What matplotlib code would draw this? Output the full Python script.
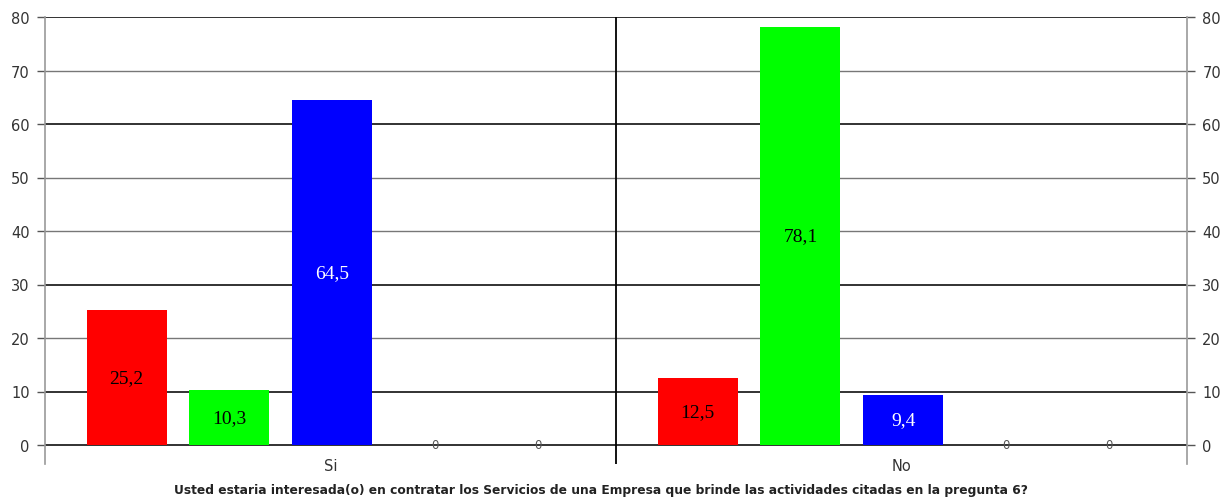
import matplotlib.pyplot as plt
import numpy as np

# Data
categories = ["Si", "No"]
series_colors = ["#ff0000", "#00ff00", "#0000ff", "#808080", "#808080"]
label_colors = ["black", "black", "white", "#555555", "#555555"]
values = [
    [25.2, 10.3, 64.5, 0, 0],   # Si
    [12.5, 78.1, 9.4, 0, 0],    # No
]
value_labels = [
    ["25,2", "10,3", "64,5", "0", "0"],
    ["12,5", "78,1", "9,4", "0", "0"],
]
yticks = [0, 10, 20, 30, 40, 50, 60, 70, 80]
dark_lines = [0, 10, 30, 60, 80]
xlabel = ("Usted estaria interesada(o) en contratar los Servicios de una "
          "Empresa que brinde las actividades citadas en la pregunta 6?")

fig = plt.figure(figsize=(12.26, 5.02), dpi=100)
ax = fig.add_axes([45 / 1226, 1 - 465 / 502, (1187 - 45) / 1226, (465 - 18) / 502])

ymin = -19 / 5.35
ax.set_ylim(ymin, 80)
ax.set_xlim(0, len(categories))

# horizontal grid lines
for t in yticks:
    if t in dark_lines:
        ax.axhline(t, color="#222222", lw=1.3, zorder=1)
    else:
        ax.axhline(t, color="#777777", lw=1.0, zorder=1)

# bars
slot = 0.18
width = 0.14
for ci, cat in enumerate(categories):
    for si, v in enumerate(values[ci]):
        xc = ci + 0.053 + slot * (si + 0.5)
        if v > 0:
            ax.bar(xc, v, width=width, color=series_colors[si], zorder=2)
            ax.text(xc, v / 2, value_labels[ci][si], ha="center", va="center",
                    fontsize=14, family="Liberation Serif",
                    color=label_colors[si], zorder=3,
                    bbox=dict(facecolor=series_colors[si], edgecolor="none",
                              pad=5))
        else:
            ax.text(xc, 0, value_labels[ci][si], ha="center", va="center",
                    fontsize=8.5, color=label_colors[si], zorder=3)
    ax.text(ci + 0.5, ymin - 0.2, cat, ha="center", va="center",
            fontsize=10.5, color="#333333", clip_on=False)

# category divider
ax.axvline(1, color="black", lw=1.3, zorder=1)

# spines and ticks
for s in ["top", "bottom"]:
    ax.spines[s].set_visible(False)
for s in ["left", "right"]:
    ax.spines[s].set_color("#999999")
    ax.spines[s].set_linewidth(1.2)
ax.set_xticks([])
ax.set_yticks(yticks)
ax.tick_params(axis="y", which="both", left=True, right=True, labelleft=True,
               labelright=True, length=6, width=1, color="#555555",
               labelsize=10.5, labelcolor="#333333", pad=5)

fig.text(601 / 1226, 1 - 491 / 502, xlabel, ha="center", va="center",
         fontsize=8.8, fontweight="bold", color="#222222")

fig.savefig("out.png", dpi=100)
